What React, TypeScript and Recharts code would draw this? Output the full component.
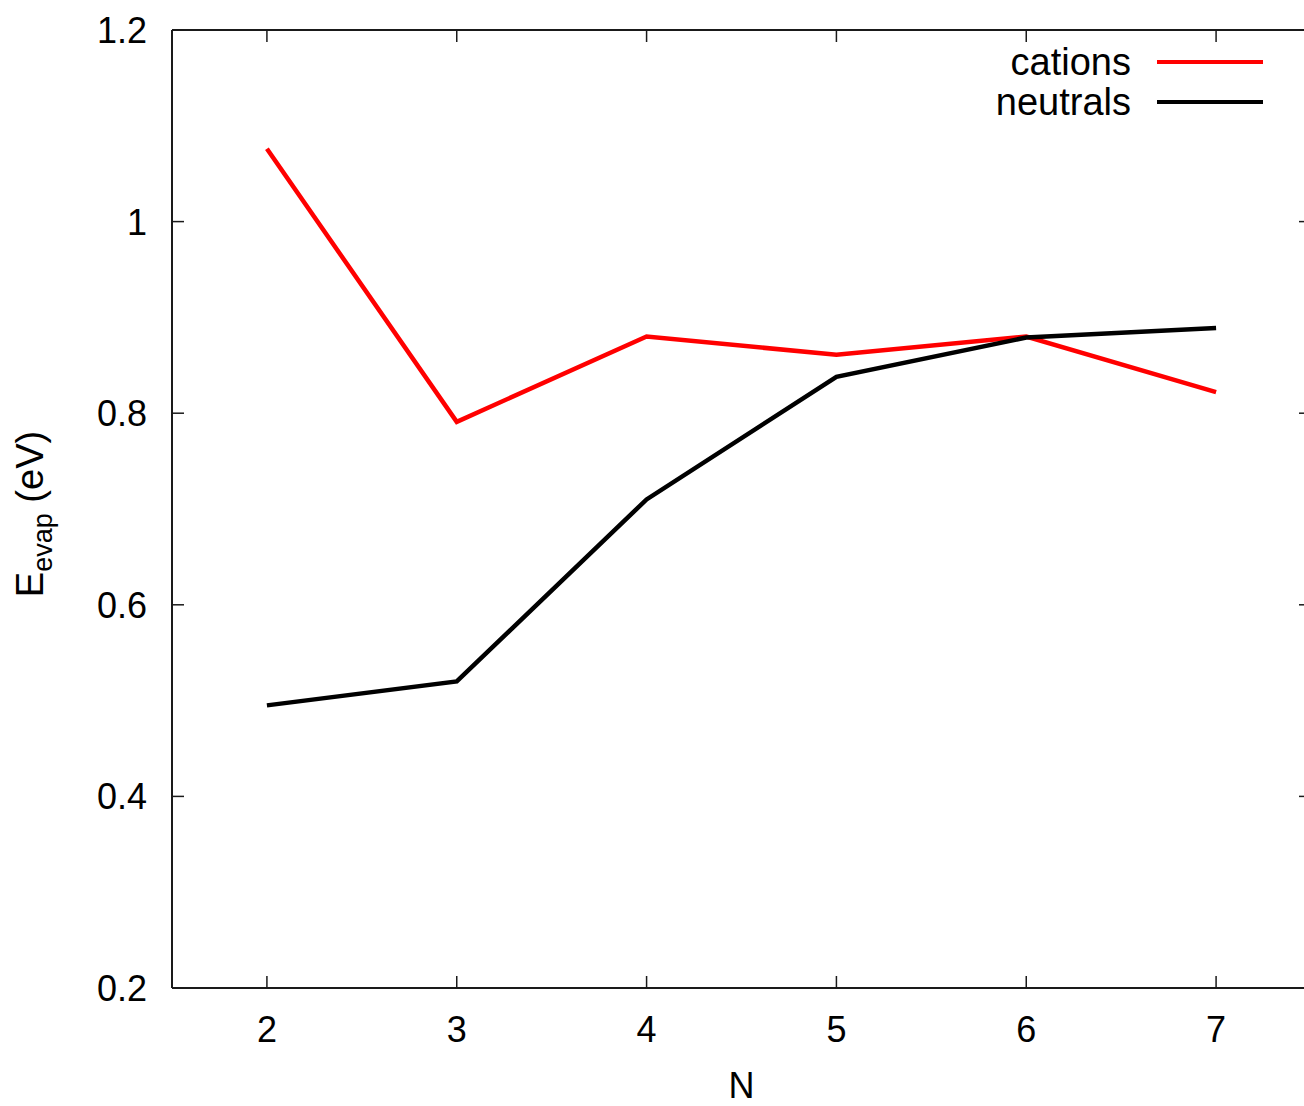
import React from 'react';
import { LineChart, Line, XAxis, YAxis, Legend } from 'recharts';

const nValues = [2, 3, 4, 5, 6, 7];
const cations = [1.076, 0.791, 0.88, 0.861, 0.88, 0.822];
const neutrals = [0.495, 0.52, 0.71, 0.838, 0.879, 0.889];
const xTicks = [2, 3, 4, 5, 6, 7];
const yTicks = [0.2, 0.4, 0.6, 0.8, 1, 1.2];

const data = nValues.map((n, i) => ({ n, cations: cations[i], neutrals: neutrals[i] }));

const FONT = '"Liberation Sans", Arial, Helvetica, sans-serif';
const FS = 36;
const TICK = 12;
const AXIS_COLOR = '#1a1a1a';

const BottomTick = (p: any) => (
  <g>
    <line x1={p.x} x2={p.x} y1={p.y} y2={p.y - TICK} stroke={AXIS_COLOR} strokeWidth={1.5} />
    <text x={p.x} y={p.y + 54} textAnchor="middle" fontSize={FS} fontFamily={FONT} fill="#000">
      {p.payload.value}
    </text>
  </g>
);

const TopTick = (p: any) => (
  <line x1={p.x} x2={p.x} y1={p.y} y2={p.y + TICK} stroke={AXIS_COLOR} strokeWidth={1.5} />
);

const LeftTick = (p: any) => (
  <g>
    <line x1={p.x} x2={p.x + TICK} y1={p.y} y2={p.y} stroke={AXIS_COLOR} strokeWidth={1.5} />
    <text x={p.x - 25} y={p.y + 13} textAnchor="end" fontSize={FS} fontFamily={FONT} fill="#000">
      {p.payload.value}
    </text>
  </g>
);

const RightTick = (p: any) => (
  <line x1={p.x} x2={p.x - TICK} y1={p.y} y2={p.y} stroke={AXIS_COLOR} strokeWidth={1.5} />
);

const XLabel = (p: any) => {
  const vb = p.viewBox;
  return (
    <text x={vb.x + vb.width / 2} y={1098} textAnchor="middle" fontSize={FS} fontFamily={FONT} fill="#000">
      N
    </text>
  );
};

const YLabel = (p: any) => {
  const vb = p.viewBox;
  const cx = 43;
  const cy = vb.y + vb.height / 2 + 5;
  return (
    <text
      x={cx}
      y={cy}
      transform={`rotate(-90 ${cx} ${cy})`}
      textAnchor="middle"
      fontSize={38}
      fontFamily={FONT}
      fill="#000"
    >
      E
      <tspan fontSize={27} dy={9}>evap</tspan>
      <tspan dy={-9}> (eV)</tspan>
    </text>
  );
};

const LegendBox = (props: any) => (
  <div style={{ fontFamily: FONT, fontSize: 38 }}>
    {(props.payload || []).map((item: any) => (
      <div
        key={item.value}
        style={{ display: 'flex', justifyContent: 'flex-end', alignItems: 'center', height: 40, lineHeight: '40px' }}
      >
        <span style={{ color: '#000' }}>{item.value}</span>
        <span style={{ display: 'inline-block', width: 106, height: 4, marginLeft: 26, background: item.color }} />
      </div>
    ))}
  </div>
);

export default function App() {
  return (
    <div style={{ position: 'absolute', left: 0, top: 0, width: 1304, height: 1106, overflow: 'hidden', background: '#fff' }}>
      <LineChart width={1320} height={1106} data={data} margin={{ top: 29, right: 8, bottom: 117, left: 171 }}>
        <XAxis
          dataKey="n"
          type="number"
          domain={[1.5, 7.5]}
          ticks={xTicks}
          height={1}
          tickSize={0}
          tickMargin={0}
          tickLine={false}
          tick={BottomTick}
          stroke={AXIS_COLOR}
          strokeWidth={2}
          label={XLabel}
          allowDataOverflow
        />
        <XAxis
          xAxisId="top"
          orientation="top"
          dataKey="n"
          type="number"
          domain={[1.5, 7.5]}
          ticks={xTicks}
          height={1}
          tickSize={0}
          tickMargin={0}
          tickLine={false}
          tick={TopTick}
          stroke={AXIS_COLOR}
          strokeWidth={2}
          allowDataOverflow
        />
        <YAxis
          type="number"
          domain={[0.2, 1.2]}
          ticks={yTicks}
          width={1}
          tickSize={0}
          tickMargin={0}
          tickLine={false}
          tick={LeftTick}
          stroke={AXIS_COLOR}
          strokeWidth={2}
          label={YLabel}
          allowDataOverflow
        />
        <YAxis
          yAxisId="right"
          orientation="right"
          type="number"
          domain={[0.2, 1.2]}
          ticks={yTicks}
          width={1}
          tickSize={0}
          tickMargin={0}
          tickLine={false}
          tick={RightTick}
          stroke={AXIS_COLOR}
          strokeWidth={2}
          allowDataOverflow
        />
        <Legend
          content={LegendBox}
          layout="horizontal"
          verticalAlign="middle"
          align="center"
          wrapperStyle={{ position: 'absolute', left: 900, top: 42, width: 363 }}
        />
        <Line
          dataKey="cations"
          name="cations"
          stroke="#ff0000"
          strokeWidth={4.5}
          strokeLinejoin="miter"
          dot={false}
          activeDot={false}
          isAnimationActive={false}
        />
        <Line
          dataKey="neutrals"
          name="neutrals"
          stroke="#000000"
          strokeWidth={4.5}
          strokeLinejoin="miter"
          dot={false}
          activeDot={false}
          isAnimationActive={false}
        />
      </LineChart>
    </div>
  );
}
